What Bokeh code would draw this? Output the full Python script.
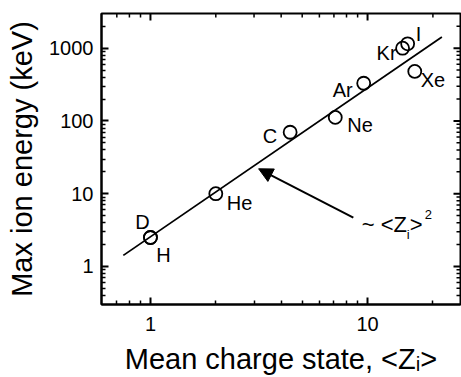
import math
from bokeh.plotting import figure
from bokeh.models import (FixedTicker, NumeralTickFormatter, ColumnDataSource,
                          Label, Arrow, NormalHead, Range1d)
from bokeh.core.properties import value
from bokeh.embed import file_html
from bokeh.resources import INLINE

# data
elements = ["H", "D", "He", "C", "Ne", "Ar", "Kr", "I", "Xe"]
mean_z = [1.0, 1.0, 2.0, 4.4, 7.1, 9.6, 14.5, 15.3, 16.5]
energy = [2.5, 2.5, 10.0, 70.0, 112.0, 330.0, 1000.0, 1150.0, 480.0]
fit_z = [0.75, 22.0]
fit_e = [1.42, 1430.0]

x_lim = (0.595, 26.8)
y_lim = (0.3, 3000.0)
x_major = [1.0, 10.0]
x_minor = [0.7, 0.8, 0.9, 2.0, 3.0, 4.0, 5.0, 6.0, 7.0, 8.0, 9.0, 20.0]
y_major = [1.0, 10.0, 100.0, 1000.0]
y_minor = [0.4, 0.5, 0.6, 0.7, 0.8, 0.9,
           2.0, 3.0, 4.0, 5.0, 6.0, 7.0, 8.0, 9.0,
           20.0, 30.0, 40.0, 50.0, 60.0, 70.0, 80.0, 90.0,
           200.0, 300.0, 400.0, 500.0, 600.0, 700.0, 800.0, 900.0, 2000.0]

# label placement (screen px, relative to point; dy positive = up)
lab_dx = [13, -8, 11, -13, 12, -11, -6, 8, 6]
lab_dy = [-17, 16, -9, -4, -8, -7, -5, 10, -9]
lab_align = ["center", "center", "left", "right", "left", "right", "right", "left", "left"]

FONT = "Liberation Sans"
W, H = 461, 377
BL, BR, BT, BB = 101, 1, 13, 73
MAJ, MIN = 7, 4

p = figure(width=W, height=H, x_axis_type="log", y_axis_type="log",
           x_range=Range1d(*x_lim), y_range=Range1d(*y_lim),
           output_backend="svg", toolbar_location=None,
           min_border_left=BL, min_border_right=BR, min_border_top=BT, min_border_bottom=BB)
p.grid.visible = False
p.outline_line_color = "black"
p.outline_line_width = 2
p.background_fill_color = "white"
p.border_fill_color = "white"

for ax, major, minor in ((p.xaxis[0], x_major, x_minor), (p.yaxis[0], y_major, y_minor)):
    ax.ticker = FixedTicker(ticks=major, minor_ticks=minor)
    ax.formatter = NumeralTickFormatter(format="0")
    ax.axis_line_width = 2
    ax.major_tick_in = MAJ
    ax.major_tick_out = 0
    ax.minor_tick_in = MIN
    ax.minor_tick_out = 0
    ax.major_tick_line_width = 2
    ax.minor_tick_line_width = 1.5
    ax.major_tick_line_color = "black"
    ax.minor_tick_line_color = "black"
    ax.major_label_text_font = FONT
    ax.major_label_text_font_size = "20px"
    ax.major_label_text_color = "black"
    ax.axis_label_text_font = FONT
    ax.axis_label_text_font_size = "29px"
    ax.axis_label_text_font_style = "normal"
    ax.axis_label_text_color = "black"

p.xaxis.axis_label = "Mean charge state, <Zᵢ>"
p.yaxis.axis_label = "Max ion energy (keV)"
p.xaxis.major_label_standoff = 12
p.yaxis.major_label_standoff = 8
p.xaxis.axis_label_standoff = 9
p.yaxis.axis_label_standoff = 8

# mirrored inward ticks on the top and right edges (pixel lengths through the log scales)
x_ppd = (W - BL - BR) / math.log10(x_lim[1] / x_lim[0])   # pixels per decade
y_ppd = (H - BT - BB) / math.log10(y_lim[1] / y_lim[0])

for vals, length, width in ((x_major, MAJ, 2), (x_minor, MIN, 1.5)):
    f = 10 ** (length / y_ppd)
    n = len(vals)
    p.segment(x0=list(vals), y0=[y_lim[1]] * n, x1=list(vals), y1=[y_lim[1] / f] * n,
              line_color="black", line_width=width)
for vals, length, width in ((y_major, MAJ, 2), (y_minor, MIN, 1.5)):
    f = 10 ** (length / x_ppd)
    n = len(vals)
    p.segment(x0=[x_lim[1]] * n, y0=list(vals), x1=[x_lim[1] / f] * n, y1=list(vals),
              line_color="black", line_width=width)

p.line(fit_z, fit_e, line_color="black", line_width=1.8)
src = ColumnDataSource(dict(x=mean_z, y=energy, t=elements, dx=lab_dx,
                            dy=[-d for d in lab_dy], al=lab_align))
p.scatter("x", "y", source=src, size=13, fill_color=None, line_color="black", line_width=1.8)

p.text(x="x", y="y", text="t", source=src, x_offset="dx", y_offset="dy",
       text_align="al", text_baseline="middle", text_font=value(FONT),
       text_font_size="20px", text_color="black")

p.add_layout(Arrow(end=NormalHead(size=14, fill_color="black", line_color="black"),
                   x_start=8.6, y_start=4.7, x_end=3.15, y_end=22.0,
                   line_width=2, line_color="black"))

# "~ <Z_i>^2" annotation
ann_x, ann_y = 9.4, 3.72
for txt, dx, dy, size in (("~ <Z", 0, 0, "22px"), ("i", 45, -10, "13px"),
                          (">", 48, 0, "22px"), ("2", 63, 10, "13px")):
    p.add_layout(Label(x=ann_x, y=ann_y, x_offset=dx, y_offset=dy, text=txt,
                       text_baseline="middle", text_font=FONT,
                       text_font_size=size, text_color="black"))

open("out.html", "w").write(file_html(p, INLINE))
